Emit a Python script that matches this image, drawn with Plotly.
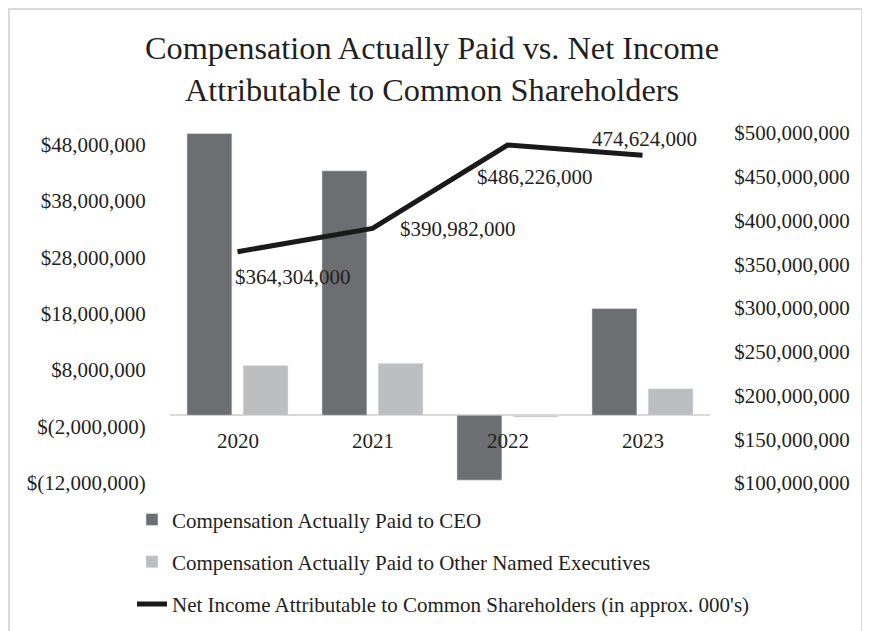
import plotly.graph_objects as go

years = ["2020", "2021", "2022", "2023"]
ceo_cap = [49.9e6, 43.3e6, -11.5e6, 18.9e6]
neo_cap = [8.8e6, 9.2e6, -0.3e6, 4.7e6]
net_income = [364304000, 390982000, 486226000, 474624000]
net_income_labels = ["$364,304,000", "$390,982,000", "$486,226,000", "474,624,000"]

left_tickvals = [-12e6, -2e6, 8e6, 18e6, 28e6, 38e6, 48e6]
left_ticktext = ["$(12,000,000)", "$(2,000,000)", "$8,000,000", "$18,000,000",
                 "$28,000,000", "$38,000,000", "$48,000,000"]
right_tickvals = [100e6, 150e6, 200e6, 250e6, 300e6, 350e6, 400e6, 450e6, 500e6]
right_ticktext = ["$100,000,000", "$150,000,000", "$200,000,000", "$250,000,000",
                  "$300,000,000", "$350,000,000", "$400,000,000", "$450,000,000",
                  "$500,000,000"]

left_range = [-12e6, 50e6]
right_range = [100e6, 500e6]

names = ["Compensation Actually Paid to CEO",
         "Compensation Actually Paid to Other Named Executives",
         "Net Income Attributable to Common Shareholders (in approx. 000's)"]

FONT = "Liberation Serif, Times New Roman, serif"
TXT = "#231f20"

fig = go.Figure()
fig.add_trace(go.Bar(x=years, y=ceo_cap, name=names[0], marker_color="#6d6e71",
                     legendgroup="a", yaxis="y"))
fig.add_trace(go.Bar(x=years, y=neo_cap, name=names[1], marker_color="#bcbec0",
                     legendgroup="b", yaxis="y"))
fig.add_trace(go.Scatter(x=years, y=net_income, name=names[2], mode="lines",
                         line=dict(color="#1a1a1a", width=5), legendgroup="c",
                         yaxis="y2"))

# data labels for the net income line (category axis: x is the category index)
shifts = [(55, -25), (85, -1), (27, -32), (2, 16)]
for i, (v, lab, (dx, dy)) in enumerate(zip(net_income, net_income_labels, shifts)):
    fig.add_annotation(x=i, y=v, xref="x", yref="y2", text=lab, showarrow=False,
                       xshift=dx, yshift=dy, font=dict(family=FONT, size=21, color=TXT))

# category labels sitting just under the zero line
for i, yr in enumerate(years):
    fig.add_annotation(x=i, y=0, xref="x", yref="y", text=yr, showarrow=False,
                       yshift=-26, font=dict(family=FONT, size=21, color=TXT))

fig.update_layout(
    width=862, height=623,
    paper_bgcolor="white", plot_bgcolor="white",
    margin=dict(l=162, r=160, t=125, b=148, autoexpand=False),
    font=dict(family=FONT, size=21, color=TXT),
    title=dict(text="Compensation Actually Paid vs. Net Income<br>Attributable to Common Shareholders",
               x=0.4919, xanchor="center", y=0.9175, yanchor="top",
               font=dict(family=FONT, size=32.3, color=TXT)),
    barmode="group", bargap=0.168, bargroupgap=0.2,
    showlegend=True,
    legend=dict(orientation="v", x=-0.0704, xanchor="left", y=-0.0466, yanchor="top",
                traceorder="grouped", tracegroupgap=12,
                font=dict(family=FONT, size=21, color=TXT), bgcolor="rgba(0,0,0,0)"),
    xaxis=dict(type="category", range=[-0.5, len(years) - 0.5], showline=False,
               showgrid=False, zeroline=False, showticklabels=False, ticks=""),
    yaxis=dict(range=left_range, tickvals=left_tickvals, ticktext=left_ticktext,
               showgrid=False, zeroline=True, zerolinecolor="#d9d9d9",
               zerolinewidth=2, showline=False, ticks="outside",
               ticklen=19, tickcolor="rgba(0,0,0,0)",
               tickfont=dict(family=FONT, size=21, color=TXT)),
    yaxis2=dict(range=right_range, tickvals=right_tickvals, ticktext=right_ticktext,
                overlaying="y", side="right", showgrid=False, zeroline=False,
                showline=False, ticks="outside", ticklen=19,
                tickcolor="rgba(0,0,0,0)",
                tickfont=dict(family=FONT, size=21, color=TXT)),
    shapes=[dict(type="rect", xref="paper", yref="paper",
                 x0=(1 - 162) / 540, x1=(854 - 162) / 540,
                 y0=(475 - 640) / 350, y1=(475 - 1) / 350,
                 line=dict(color="#d9d9d9", width=2), fillcolor="rgba(0,0,0,0)",
                 layer="below")],
)

fig.write_html("out.html")
